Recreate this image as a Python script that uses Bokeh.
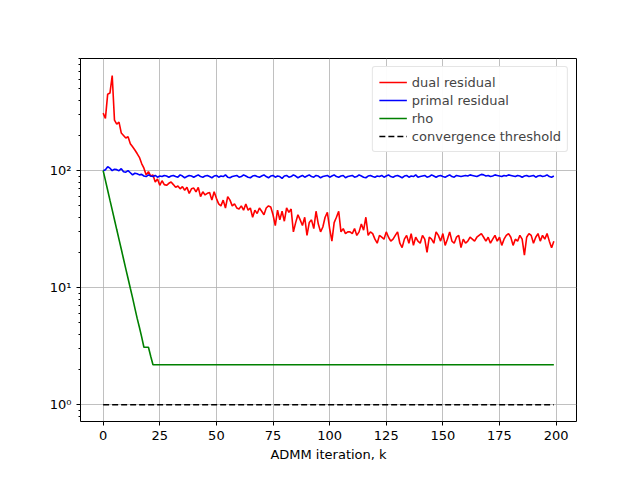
from bokeh.plotting import figure
from bokeh.models import Range1d, FixedTicker, LogTicker, CustomJSTickFormatter, Legend, LegendItem
from bokeh.embed import file_html
from bokeh.resources import INLINE

dual = [310, 280, 450, 460, 650, 270, 250, 260, 210, 200, 190, 195, 170, 160, 150, 140, 130, 115, 105, 92,
        98, 90, 92, 80, 85, 75, 82, 76, 75, 78, 80, 76, 72, 74, 70, 73, 68, 72, 64, 70,
        71, 66, 72, 60, 66, 62, 64, 65, 56, 66, 58, 52, 50, 56, 48, 60, 56, 50, 52, 48,
        47, 50, 46, 52, 46, 48, 40, 46, 43, 48, 45, 42, 48, 50, 49, 42, 34, 46, 38, 45,
        37, 48, 44, 47, 30, 36, 42, 38, 34, 40, 28, 36, 38, 32, 45, 35, 30, 33, 40, 44,
        32, 25, 36, 40, 45, 30, 32, 29, 30, 30, 29, 32, 28, 30, 35, 31, 40, 28, 30, 29,
        26, 24, 28, 27, 26, 30, 27, 25, 26, 28, 30, 24, 22, 26, 28, 24, 29, 23, 27, 25,
        24, 28, 26, 20, 27, 26, 24, 30, 28, 25, 29, 23, 26, 30, 25, 24, 27, 28, 22, 26,
        24, 25, 27, 26, 25, 27, 28, 29, 27, 25, 27, 24, 26, 28, 25, 27, 23, 26, 28, 29,
        27, 23, 26, 25, 28, 26, 19, 27, 29, 28, 24, 27, 29, 25, 28, 26, 29, 25, 22, 25]
primal = [100, 102, 108, 105, 100, 103, 102, 100, 104, 98, 97, 100, 96, 92, 95, 94, 92, 93, 90, 89,
          92, 90, 89, 91, 88, 90, 89, 91, 90, 88, 90, 91, 89, 88, 92, 90, 87, 89, 91, 90,
          88, 90, 92, 89, 88, 90, 91, 89, 87, 90, 91, 88, 90, 89, 92, 88, 87, 89, 90, 91,
          88, 89, 92, 90, 88, 87, 90, 91, 89, 88, 90, 92, 89, 87, 90, 91, 88, 90, 89, 86,
          90, 91, 88, 89, 92, 90, 87, 89, 91, 88, 90, 92, 89, 88, 91, 90, 87, 89, 90, 91,
          88, 90, 92, 89, 88, 90, 91, 87, 89, 90, 91, 88, 89, 92, 90, 88, 87, 90, 91, 89,
          88, 90, 89, 91, 88, 90, 92, 89, 88, 90, 91, 89, 87, 90, 91, 88, 90, 89, 92, 88,
          89, 90, 91, 88, 89, 92, 90, 88, 90, 91, 89, 88, 90, 92, 89, 88, 91, 90, 89, 90,
          91, 90, 92, 91, 90, 89, 91, 93, 92, 90, 91, 89, 90, 92, 91, 90, 89, 91, 90, 92,
          91, 90, 89, 91, 90, 88, 90, 91, 89, 90, 91, 88, 90, 91, 89, 90, 92, 89, 88, 90]
rho = [100, 82.5, 68, 56, 46.2, 38.1, 31.4, 25.9, 21.4, 17.6, 14.5, 12.0, 9.9, 8.2, 6.7, 5.5, 4.6, 3.8,
       3.1, 3.1, 3.1, 2.6, 2.2] + [2.2] * 177
threshold = [1.0] * 200
k = list(range(200))

p = figure(width=620, height=464, y_axis_type="log", output_backend="svg", toolbar_location=None,
           x_range=Range1d(-10, 209), y_range=Range1d(0.72, 908),
           min_border_left=80, min_border_right=44, min_border_top=58, min_border_bottom=37)
p.outline_line_color = "black"
p.background_fill_color = "white"

r1 = p.line(k, dual, line_color="red", line_width=1.6)
r2 = p.line(k, primal, line_color="blue", line_width=1.6)
r3 = p.line(k, rho, line_color="green", line_width=1.6)
r4 = p.line(k, threshold, line_color="black", line_width=1.6, line_dash="6 3")

p.xaxis.ticker = FixedTicker(ticks=[0, 25, 50, 75, 100, 125, 150, 175, 200])
p.yaxis.ticker = LogTicker(num_minor_ticks=10)
p.yaxis.formatter = CustomJSTickFormatter(code="""
const sup = {'0':'\u2070','1':'\u00b9','2':'\u00b2','3':'\u00b3'};
const e = Math.round(Math.log10(tick));
return '10' + String(e).split('').map(c => sup[c] || c).join('');
""")
p.xaxis.axis_label = "ADMM iteration, k"
for ax in [p.xaxis, p.yaxis]:
    ax.axis_label_text_font = "DejaVu Sans"
    ax.axis_label_text_font_style = "normal"
    ax.axis_label_text_font_size = "13px"
    ax.axis_label_text_color = "black"
    ax.major_label_text_font = "DejaVu Sans"
    ax.major_label_text_font_size = "13px"
    ax.major_label_text_color = "black"
    ax.major_tick_in = 0
    ax.major_tick_out = 4
    ax.minor_tick_in = 0
    ax.minor_tick_out = 2
    ax.axis_line_color = None
    ax.major_tick_line_color = "black"
    ax.minor_tick_line_color = "black"
p.xaxis.minor_tick_line_color = None
p.xaxis.axis_label_standoff = 4
p.grid.grid_line_color = "#b0b0b0"
p.grid.grid_line_alpha = 1
p.grid.grid_line_width = 0.8

legend = Legend(items=[LegendItem(label="dual residual", renderers=[r1]),
                       LegendItem(label="primal residual", renderers=[r2]),
                       LegendItem(label="rho", renderers=[r3]),
                       LegendItem(label="convergence threshold", renderers=[r4])],
                location="top_right")
legend.label_text_font = "DejaVu Sans"
legend.label_text_font_size = "13px"
legend.border_line_color = "#cccccc"
legend.border_radius = 3
legend.glyph_width = 28
legend.spacing = 0
legend.padding = 6
legend.margin = 8
legend.label_height = 18
legend.glyph_height = 18
p.add_layout(legend)

open("out.html", "w").write(file_html(p, INLINE))
